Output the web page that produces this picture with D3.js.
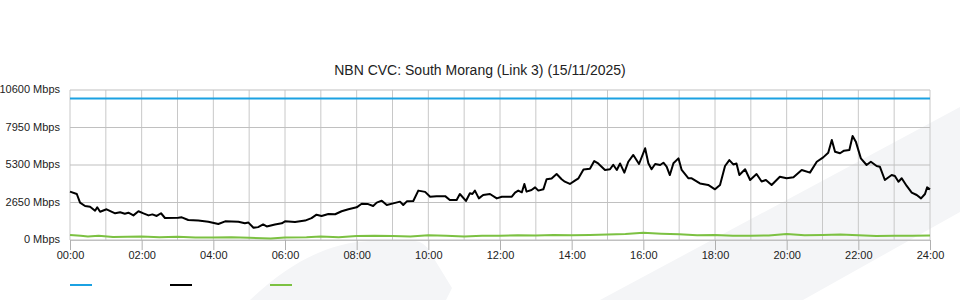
<!DOCTYPE html>
<html>
<head>
<meta charset="utf-8">
<script src="https://cdn.jsdelivr.net/npm/d3@7"></script>
<style>
  body { margin: 0; background: #ffffff; }
  svg { display: block; font-family: "Liberation Sans", Arial, sans-serif; }
</style>
</head>
<body>
<svg width="960" height="300"></svg>
<script>
const TITLE = "NBN CVC: South Morang (Link 3) (15/11/2025)";
const yTicks = [0, 2650, 5300, 7950, 10600];
const xTickHours = [0, 2, 4, 6, 8, 10, 12, 14, 16, 18, 20, 22, 24];

// capacity line
const capacityHours = [0, 24];
const capacityMbps = [10000, 10000];

// main traffic (hours, Mbps)
const trafficHours = [
  0, 0.19, 0.28, 0.42, 0.56, 0.70, 0.76, 0.84, 1.02, 1.26, 1.40, 1.53, 1.63, 1.77, 1.91,
  2.05, 2.19, 2.30, 2.42, 2.54, 2.65, 3.02, 3.12, 3.30, 3.58, 3.86, 4.14, 4.33, 4.70, 4.88,
  4.98, 5.12, 5.25, 5.39, 5.49, 5.72, 5.91, 6.00, 6.28, 6.56, 6.74, 6.88, 7.02, 7.21, 7.40,
  7.58, 7.77, 8.00, 8.14, 8.32, 8.46, 8.56, 8.70, 8.84, 9.02, 9.21, 9.30, 9.40, 9.58, 9.72,
  9.91, 10.05, 10.23, 10.47, 10.60, 10.79, 10.88, 11.05, 11.16, 11.23, 11.30, 11.41, 11.53,
  11.72, 11.91, 12.05, 12.33, 12.42, 12.51, 12.61, 12.68, 12.74, 12.88, 12.98, 13.07, 13.21,
  13.30, 13.44, 13.58, 13.72, 13.81, 13.95, 14.09, 14.19, 14.33, 14.51, 14.63, 14.74, 14.93,
  15.07, 15.16, 15.26, 15.35, 15.47, 15.58, 15.72, 15.88, 16.05, 16.14, 16.23, 16.33, 16.47,
  16.56, 16.65, 16.74, 16.84, 16.98, 17.07, 17.26, 17.35, 17.58, 17.81, 18.00, 18.14, 18.28,
  18.40, 18.51, 18.60, 18.68, 18.84, 18.98, 19.16, 19.30, 19.42, 19.58, 19.81, 20.00, 20.19,
  20.42, 20.65, 20.84, 21.02, 21.16, 21.26, 21.35, 21.49, 21.60, 21.75, 21.84, 21.93, 22.07,
  22.23, 22.35, 22.51, 22.60, 22.74, 22.93, 23.02, 23.12, 23.21, 23.35, 23.49, 23.63, 23.75,
  23.86, 23.92, 24.00
];
const trafficMbps = [
  3420, 3250, 2640, 2400, 2350, 2070, 2310, 2000, 2170, 1885, 1955, 1860, 1930, 1740, 2030,
  1880, 1740, 1810, 1700, 1890, 1555, 1580, 1600, 1413, 1370, 1295, 1130, 1320, 1295, 1180,
  1230, 870, 910, 1100, 960, 1100, 1180, 1320, 1270, 1370, 1550, 1790, 1700, 1840, 1820,
  2030, 2170, 2310, 2560, 2540, 2400, 2640, 2780, 2470, 2590, 2710, 2470, 2730, 2760, 3490,
  3400, 3060, 3100, 3100, 2830, 2830, 3250, 2760, 3300, 3250, 3490, 2940, 3180,
  3250, 2940, 3060, 3060, 3350, 3490, 3370, 3960, 3420, 3530, 3720, 3490, 3580,
  4290, 4340, 4660, 4290, 4120, 3960, 4200, 4360, 4990, 5040, 5580, 5410, 4950,
  5000, 5320, 4950, 5410, 4760, 5530, 6010, 5370, 6480, 5420, 5000, 5370, 5300,
  5460, 5180, 4590, 5420, 5770, 4950, 4360, 4360, 4000, 3890, 3580, 3890, 5230,
  5650, 5340, 5410, 4590, 5000, 4240, 4660, 4130, 4240, 3890, 4470, 4360, 4430,
  4950, 4760, 5530, 5840, 6170, 7070, 6240, 6130, 6310, 6360, 7350, 6950, 5770,
  5300, 5530, 5230, 5180, 4240, 4590, 4520, 4120, 4360, 3820, 3350, 3180, 2940,
  3250, 3720, 3580
];

// secondary traffic near zero
const upHours = [
  0, 0.3, 0.5, 0.8, 1.2, 2, 2.5, 3, 3.5, 4, 4.5, 5, 5.6, 6, 6.6, 7, 7.5, 8, 8.5, 9, 9.5,
  10, 10.5, 11, 11.5, 12, 12.5, 13, 13.5, 14, 14.5, 15, 15.5, 16, 16.5, 17, 17.5, 18,
  18.5, 19, 19.5, 20, 20.5, 21, 21.5, 22, 22.5, 23, 23.5, 24
];
const upMbps = [
  360, 300, 250, 300, 220, 250, 200, 230, 180, 180, 200, 160, 110, 170, 200, 250, 200, 280,
  300, 280, 250, 340, 300, 250, 300, 300, 330, 320, 350, 330, 360, 380, 420, 520, 450, 400,
  330, 350, 300, 300, 320, 430, 330, 360, 380, 330, 280, 300, 300, 320
];

const legendColors = ["#1ba1e2", "#000000", "#7cc142"];

const svg = d3.select("svg");
const margin = { left: 70, right: 30, top: 90, bottom: 60 };
const W = 960, H = 300;

// watermark shapes in the background
svg.append("path")
  .attr("d", "M600,300 L960,107 L960,212 L803,300 Z")
  .attr("fill", "#f4f5f7");
svg.append("path")
  .attr("d", "M250,300 C290,262 330,242 370,241 L415,241 Q425,242 430,252 L452,288 L446,300 Z")
  .attr("fill", "#f4f5f7");

const x = d3.scaleLinear().domain([0, 24]).range([margin.left, W - margin.right]);
const y = d3.scaleLinear().domain([0, 10600]).range([H - margin.bottom, margin.top]);

// hourly vertical grid
svg.append("g")
  .selectAll("line")
  .data(d3.range(0, 25))
  .enter()
  .append("line")
  .attr("x1", (h) => x(h))
  .attr("x2", (h) => x(h))
  .attr("y1", y(10600))
  .attr("y2", y(0))
  .attr("stroke", "#c8c8c8")
  .attr("stroke-width", 1);

// horizontal grid
svg.append("g")
  .selectAll("line")
  .data(yTicks)
  .enter()
  .append("line")
  .attr("x1", x(0))
  .attr("x2", x(24))
  .attr("y1", (v) => y(v))
  .attr("y2", (v) => y(v))
  .attr("stroke", "#c0c0c0")
  .attr("stroke-width", 1.2);

// y labels
svg.append("g")
  .selectAll("text")
  .data(yTicks)
  .enter()
  .append("text")
  .attr("x", 60)
  .attr("y", (v) => y(v) + 3)
  .attr("text-anchor", "end")
  .attr("font-size", 11)
  .attr("fill", "#222")
  .text((v) => `${v} Mbps`);

// x axis
const xAxis = d3.axisBottom(x)
  .tickValues(xTickHours)
  .tickSize(10)
  .tickFormat((h) => `${String(h).padStart(2, "0")}:00`);
const gx = svg.append("g")
  .attr("transform", `translate(0,${y(0)})`)
  .call(xAxis);
gx.select(".domain").attr("stroke", "#c0c0c0");
gx.selectAll(".tick line").attr("stroke", "#b0b0b0");
gx.selectAll(".tick text")
  .attr("font-size", 11)
  .attr("font-family", "Liberation Sans, Arial, sans-serif")
  .attr("fill", "#222")
  .attr("dy", "0.55em");

const line = d3.line()
  .x((d) => x(d[0]))
  .y((d) => y(d[1]));

const drawSeries = (hours, values, color) => {
  svg.append("path")
    .datum(d3.zip(hours, values))
    .attr("d", line)
    .attr("fill", "none")
    .attr("stroke", color)
    .attr("stroke-width", 2)
    .attr("stroke-linejoin", "round");
};

drawSeries(capacityHours, capacityMbps, legendColors[0]);
drawSeries(upHours, upMbps, legendColors[2]);
drawSeries(trafficHours, trafficMbps, legendColors[1]);

// title
svg.append("text")
  .attr("x", W / 2)
  .attr("y", 75)
  .attr("text-anchor", "middle")
  .attr("font-size", 14)
  .attr("fill", "#222")
  .text(TITLE);

// legend swatches
svg.append("g")
  .selectAll("line")
  .data(legendColors)
  .enter()
  .append("line")
  .attr("x1", (c, i) => 70 + i * 100)
  .attr("x2", (c, i) => 92 + i * 100)
  .attr("y1", 285)
  .attr("y2", 285)
  .attr("stroke", (c) => c)
  .attr("stroke-width", 2);
</script>
</body>
</html>
